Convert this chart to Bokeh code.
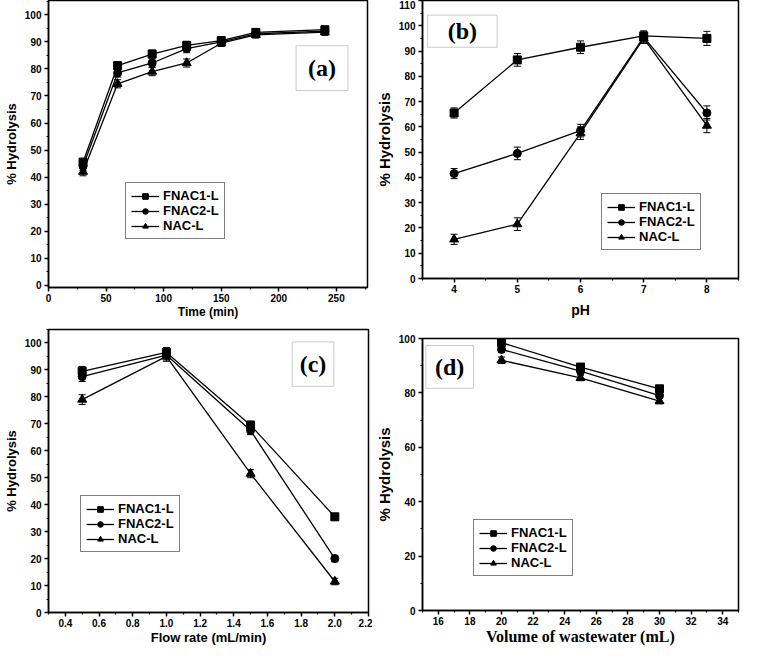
from bokeh.plotting import figure
from bokeh.models import (Range1d, FixedTicker, Whisker, TeeHead, ColumnDataSource,
                          Legend, LegendItem, BoxAnnotation, Label, PrintfTickFormatter)
from bokeh.layouts import column, row
from bokeh.embed import file_html
from bokeh.resources import INLINE

SANS = "Liberation Sans"
SERIF = "Liberation Serif"

series_names = ["FNAC1-L", "FNAC2-L", "NAC-L"]
series_markers = ["square", "circle", "triangle"]

# ---- (a) time
time_min = [30, 60, 90, 120, 150, 180, 240]
a_fnac1 = [45.5, 81.2, 85.5, 88.7, 90.5, 93.5, 94.5]
a_fnac2 = [44.0, 78.5, 82.2, 87.5, 90.0, 93.0, 94.0]
a_nac = [42.0, 74.5, 79.0, 82.2, 89.5, 92.6, 93.6]
a_err1 = [1.5, 1.5, 1.5, 1.5, 1.2, 1.2, 1.2]
a_err2 = [1.5, 1.5, 1.5, 1.5, 1.2, 1.2, 1.2]
a_err3 = [1.5, 1.5, 1.5, 1.5, 1.2, 1.2, 1.2]
a_xticks = [0, 50, 100, 150, 200, 250]
a_xminor = [25, 75, 125, 175, 225, 275]
a_yticks = [0, 10, 20, 30, 40, 50, 60, 70, 80, 90, 100]
a_yminor = [5, 15, 25, 35, 45, 55, 65, 75, 85, 95, 105]

# ---- (b) pH
ph = [4, 5, 6, 7, 8]
b_fnac1 = [65.5, 86.5, 91.5, 96.0, 95.0]
b_fnac2 = [41.5, 49.5, 58.5, 95.5, 65.5]
b_nac = [15.5, 21.5, 57.5, 95.0, 60.5]
b_err1 = [2.0, 2.5, 2.5, 2.0, 2.8]
b_err2 = [2.0, 2.5, 2.5, 2.0, 2.8]
b_err3 = [2.0, 2.5, 2.5, 2.0, 2.8]
b_xticks = [4, 5, 6, 7, 8]
b_xminor = [3.5, 4.5, 5.5, 6.5, 7.5, 8.5]
b_yticks = [0, 10, 20, 30, 40, 50, 60, 70, 80, 90, 100, 110]
b_yminor = [5, 15, 25, 35, 45, 55, 65, 75, 85, 95, 105]

# ---- (c) flow rate
flow = [0.5, 1.0, 1.5, 2.0]
c_fnac1 = [89.5, 96.5, 69.5, 35.5]
c_fnac2 = [87.5, 95.5, 67.5, 20.0]
c_nac = [79.0, 95.0, 51.5, 11.5]
c_err1 = [1.8, 1.8, 1.5, 1.2]
c_err2 = [1.8, 1.8, 1.5, 1.2]
c_err3 = [1.8, 1.8, 1.5, 1.2]
c_xticks = [0.4, 0.6, 0.8, 1.0, 1.2, 1.4, 1.6, 1.8, 2.0, 2.2]
c_xminor = [0.3, 0.5, 0.7, 0.9, 1.1, 1.3, 1.5, 1.7, 1.9, 2.1]
c_yticks = [0, 10, 20, 30, 40, 50, 60, 70, 80, 90, 100]
c_yminor = [5, 15, 25, 35, 45, 55, 65, 75, 85, 95, 105]

# ---- (d) volume
volume = [20, 25, 30]
d_fnac1 = [98.5, 89.5, 81.5]
d_fnac2 = [96.0, 88.0, 79.0]
d_nac = [92.0, 85.5, 77.0]
d_err1 = [1.2, 1.0, 1.0]
d_err2 = [1.2, 1.0, 1.0]
d_err3 = [1.2, 1.0, 1.0]
d_xticks = [16, 18, 20, 22, 24, 26, 28, 30, 32, 34]
d_xminor = [15, 17, 19, 21, 23, 25, 27, 29, 31, 33, 35]
d_yticks = [0, 20, 40, 60, 80, 100]
d_yminor = [10, 30, 50, 70, 90]


def make_panel(w, h, xr, yr, xt, xm, yt, ym, xlabel, borders,
               xlabel_font=SANS, xlabel_size="13px", ylabel_size="13px",
               xfmt=None, xstand=0, ystand=3):
    bl, br, bt, bb = borders
    p = figure(width=w, height=h, x_range=Range1d(*xr), y_range=Range1d(*yr),
               output_backend="svg", toolbar_location=None,
               min_border_left=bl, min_border_right=br,
               min_border_top=bt, min_border_bottom=bb,
               background_fill_color="white", border_fill_color="white")
    p.frame_align = False
    p.xgrid.visible = False
    p.ygrid.visible = False
    p.outline_line_color = "black"
    p.outline_line_width = 1.5
    p.outline_line_alpha = 1.0
    p.xaxis.ticker = FixedTicker(ticks=xt, minor_ticks=xm)
    p.yaxis.ticker = FixedTicker(ticks=yt, minor_ticks=ym)
    if xfmt:
        p.xaxis.formatter = PrintfTickFormatter(format=xfmt)
    p.xaxis.axis_label = xlabel
    p.yaxis.axis_label = "% Hydrolysis"
    for ax in (p.xaxis[0], p.yaxis[0]):
        ax.axis_line_color = "black"
        ax.axis_line_width = 1.5
        ax.major_tick_out = 4
        ax.major_tick_in = 0
        ax.minor_tick_out = 2
        ax.minor_tick_in = 0
        ax.major_tick_line_width = 1.5
        ax.minor_tick_line_width = 1.2
        ax.major_tick_line_color = "black"
        ax.minor_tick_line_color = "black"
        ax.major_label_text_font = SANS
        ax.major_label_text_font_style = "bold"
        ax.major_label_text_font_size = "10px"
        ax.major_label_text_color = "black"
        ax.axis_label_text_font_style = "bold"
        ax.axis_label_text_color = "black"
    p.xaxis.major_label_standoff = 2
    p.yaxis.major_label_standoff = 3
    p.xaxis.axis_label_text_font = xlabel_font
    p.xaxis.axis_label_text_font_size = xlabel_size
    p.xaxis.axis_label_standoff = xstand
    p.yaxis.axis_label_text_font = SANS
    p.yaxis.axis_label_text_font_size = ylabel_size
    p.yaxis.axis_label_standoff = ystand
    return p


def draw_series(p, x, ys, errs, legend_loc):
    items = []
    sizes = [8, 8, 9]
    for name, marker, y, e, sz in zip(series_names, series_markers, ys, errs, sizes):
        src = ColumnDataSource(dict(x=x, y=y,
                                    lo=[v - d for v, d in zip(y, e)],
                                    hi=[v + d for v, d in zip(y, e)]))
        ln = p.line("x", "y", source=src, line_color="black", line_width=1.3)
        wk = Whisker(base="x", upper="hi", lower="lo", source=src,
                     line_color="black", line_width=1,
                     upper_head=TeeHead(size=7, line_color="black", line_width=1),
                     lower_head=TeeHead(size=7, line_color="black", line_width=1))
        p.add_layout(wk)
        sc = p.scatter("x", "y", source=src, marker=marker, size=sz,
                       fill_color="black", line_color="black")
        items.append(LegendItem(label=name, renderers=[ln, sc]))
    lg = Legend(items=items, location=legend_loc,
                border_line_color="black", border_line_width=1,
                background_fill_color="white", background_fill_alpha=1,
                label_text_font=SANS, label_text_font_style="bold",
                label_text_font_size="13px", label_text_color="black",
                glyph_width=28, glyph_height=14, label_height=15,
                spacing=0, padding=5, margin=0, label_standoff=4)
    p.add_layout(lg)


def panel_tag(p, text, left, right, bottom, top):
    p.add_layout(BoxAnnotation(left=left, right=right, bottom=bottom, top=top,
                               fill_color="white", fill_alpha=1,
                               line_color="#555555", line_width=1))
    p.add_layout(Label(x=(left + right) / 2, y=(bottom + top) / 2, text=text,
                       text_font=SERIF, text_font_style="bold",
                       text_font_size="24px", text_color="black",
                       text_align="center", text_baseline="middle"))


# (a)
pa = make_panel(372, 324, (0, 277), (-0.8, 105.3), a_xticks, a_xminor, a_yticks, a_yminor,
                "Time (min)", (33, 5, 0, 37), ylabel_size="13px", xlabel_size="12px")
draw_series(pa, time_min, [a_fnac1, a_fnac2, a_nac], [a_err1, a_err2, a_err3], (77, 48))
panel_tag(pa, "(a)", 215, 260, 72, 88.6)

# (b)
pb = make_panel(369, 324, (3.5, 8.5), (0, 110), b_xticks, b_xminor, b_yticks, b_yminor,
                "pH", (45, 3, 0, 46), ylabel_size="15px", xlabel_size="14px", xstand=6)
draw_series(pb, ph, [b_fnac1, b_fnac2, b_nac], [b_err1, b_err2, b_err3], (179, 28))
panel_tag(pb, "(b)", 3.58, 4.68, 91.5, 104.2)

# (c)
pc = make_panel(372, 323, (0.3, 2.2), (0, 105), c_xticks, c_xminor, c_yticks, c_yminor,
                "Flow rate (mL/min)", (34, 4, 5, 30), xfmt="%.1f")
draw_series(pc, flow, [c_fnac1, c_fnac2, c_nac], [c_err1, c_err2, c_err3], (32, 60))
panel_tag(pc, "(c)", 1.747, 1.994, 83.9, 100.4)

# (d)
pd_ = make_panel(369, 323, (15, 35), (0, 100), d_xticks, d_xminor, d_yticks, d_yminor,
                 "Volume of wastewater (mL)", (39, 3, 14, 35),
                 xlabel_font=SERIF, xlabel_size="16px", ylabel_size="15px")
draw_series(pd_, volume, [d_fnac1, d_fnac2, d_nac], [d_err1, d_err2, d_err3], (51, 34))
panel_tag(pd_, "(d)", 15.21, 18.23, 81.7, 97.4)

layout = column(row(pa, pb), row(pc, pd_))
open("out.html", "w").write(file_html(layout, INLINE))
